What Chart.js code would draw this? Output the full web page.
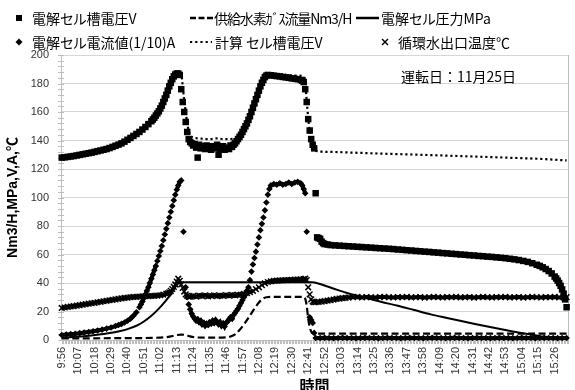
<!DOCTYPE html>
<html>
<head>
<meta charset="utf-8">
<script src="https://cdn.jsdelivr.net/npm/chart.js@4/dist/chart.umd.min.js"></script>
<style>
  html, body { margin: 0; padding: 0; background: #fff; overflow: hidden; }
  #wrap { position: relative; width: 575px; height: 390px; }
  #chart { position: absolute; left: 0; top: 0; }
  #keys { position: absolute; left: 0; top: 0; }
  .lt { position: absolute; font-family: 'Noto Sans CJK JP', sans-serif; font-size: 14px; line-height: 20px;
        color: #000; white-space: nowrap; font-feature-settings: 'palt'; }
  .note { position: absolute; font-family: 'Noto Sans CJK JP', sans-serif; font-size: 14px; line-height: 20px;
          color: #000; white-space: nowrap; }
</style>
</head>
<body>
<div id="wrap">
  <canvas id="chart" width="575" height="390"></canvas>
  <svg id="keys" width="575" height="52" viewBox="0 0 575 52">
    <rect x="16" y="15" width="6" height="6" fill="#000"/>
    <line x1="190" y1="18" x2="213" y2="18" stroke="#000" stroke-width="2.5" stroke-dasharray="6 2.5"/>
    <line x1="356" y1="18" x2="379" y2="18" stroke="#000" stroke-width="2.5"/>
    <polygon points="19,38.5 22.5,42 19,45.5 15.5,42" fill="#000"/>
    <line x1="190" y1="42" x2="212" y2="42" stroke="#000" stroke-width="2.2" stroke-dasharray="2.2 3"/>
    <line x1="382" y1="39" x2="388" y2="45" stroke="#000" stroke-width="1.4"/>
    <line x1="388" y1="39" x2="382" y2="45" stroke="#000" stroke-width="1.4"/>
  </svg>
  <div class="lt" style="left:32px;top:8px">電解セル槽電圧V</div>
  <div class="lt" style="left:214px;top:8px;letter-spacing:-1.1px">供給水素ｶﾞｽ流量Nm3/H</div>
  <div class="lt" style="left:381px;top:8px">電解セル圧力MPa</div>
  <div class="lt" style="left:32px;top:32px">電解セル電流値(1/10)A</div>
  <div class="lt" style="left:215px;top:32px">計算 セル槽電圧V</div>
  <div class="lt" style="left:398px;top:32px">循環水出口温度℃</div>
  <div class="note" style="left:401px;top:66px">運転日：11月25日</div>
</div>
<script>
// Log start; every reading below is [minutes after 9:56, value].
const startClock = '9:56';
const timeLabels = ['9:56','10:07','10:18','10:29','10:40','10:51','11:02','11:13','11:24','11:35','11:46',
  '11:57','12:08','12:19','12:30','12:41','12:52','13:03','13:14','13:25','13:36','13:47','13:58',
  '14:09','14:20','14:31','14:42','14:53','15:04','15:15','15:26'];
const yTicks = [0, 20, 40, 60, 80, 100, 120, 140, 160, 180, 200];

// 電解セル槽電圧 V
const cellVoltage = [
  [0,128],[2,128.2],[4,128.5],[6,128.8],[8,129.1],[10,129.5],[12,129.9],[14,130.3],[16,130.7],[18,131.1],
  [20,131.5],[22,132],[24,132.5],[26,133],[28,133.5],[30,134],[32,134.7],[34,135.5],[36,136.3],[38,137.1],
  [40,138],[42,139.2],[44,140.5],[46,141.8],[48,143.2],[50,144.6],[52,146],[54,147.7],[56,149.5],[58,151.5],
  [60,153.5],[61,154.7],[62,156],[63,157.5],[64,159],[65,160.5],[66,162.5],[67,164.5],[68,167],[69,169.5],
  [70,172],[71,175],[72,178],[73,180.5],[74,183],[75,185],[76,186.3],[77,187],[78,187],[79,186],
  [80,176],[81,167],[82,160],[83,153],[84,146],[85,141],[86,139],[87,138],
  [88,136.5],[89,137.5],[90,135],[91,128],[92,137],[93,134.5],[94,136],[96,134],[97,136.5],[98,135],
  [100,133.5],[101,136],[102,134.5],[104,137],[105,130],[106,134],[108,136],[109,133.5],[110,135],[112,134],
  [113,136.5],[114,135.5],[115,137],[116,138],[117,139.5],
  [118,141],[119,142.5],[120,144],[121,146],[122,148],[123,150],[124,152],[125,154.5],[126,157],[127,160],
  [128,163],[129,166],[130,169],[131,172],[132,175],[133,178],[134,180.5],[135,182.5],[136,184.5],[137,185.5],
  [138,186],[140,185.8],[142,185.5],[144,185.2],[146,185],[148,184.6],[150,184.3],[152,184],[154,183.6],
  [156,183.3],[158,183],[160,182.5],[161,182],[162,181],
  [163,176],[164,167],[165,155],[166,147],[167,141],[168,137],[169,134.5],[170,103],
  [171,72],[172,71.5],[173,71],[174,69],[175,68],[176,67.3],[178,67],
  [180,66.6],[183,66.4],[186,66.2],[189,66],[192,65.8],[195,65.6],[198,65.4],[201,65.2],[204,65],[207,64.8],
  [210,64.6],[213,64.4],[216,64.2],[219,64],[222,63.8],[225,63.5],[228,63.3],[231,63],[234,62.8],[237,62.5],
  [240,62.3],[243,62],[246,61.8],[249,61.5],[252,61.3],[255,61],[258,60.8],[261,60.5],[264,60.3],[267,60],
  [270,59.8],[273,59.5],[276,59.3],[279,59],[282,58.8],[285,58.5],[288,58.3],[291,58],[294,57.7],[297,57.4],
  [300,57],[303,56.6],[306,56.1],[309,55.5],[312,54.8],[315,53.9],[318,52.8],[320,52],[322,51],[324,49.8],
  [326,48.4],[328,46.7],[330,44.5],[331,43.2],[332,41.7],[333,40],[334,38],[335,35.5],[336,32.5],[337,28.5],
  [338,23]
];

// 計算 セル槽電圧 V
const calcVoltage = [
  [76,186.5],[78,187.5],[80,187],[81,178],[82,168],[83,160],[84,152],[85,147],[86,144],[88,142],
  [92,141.5],[96,141],[100,141],[104,141.5],[108,141],[112,141],[116,141.5],[118,142.5],[120,145],[122,148.5],
  [124,152.5],[126,157.5],[128,163.5],[130,169.5],[132,175.5],[134,181],[136,185],[138,186.5],[142,186.5],
  [150,186],[158,185.5],[162,185],[163,180],[164,168],[165,156],[166,147],[167,141],[168,137],[169,134],
  [171,132.5],[180,132],[200,131.3],[220,130.6],[240,130],[260,129.3],[280,128.6],[300,127.9],[320,127.1],
  [338,126]
];

// 供給水素ガス流量 Nm3/H
const h2Flow = [
  [0,1.2],[20,1.2],[40,1.3],[60,1.5],[70,2],[74,2.8],[77,3.5],[80,3.8],[83,3.5],[86,2.5],[90,1.8],
  [100,1.6],[110,1.8],[113,2.5],[116,4],[119,7],[122,11],[125,15.5],[128,20.5],[131,25],[134,28.5],
  [137,30],[140,30.2],[162,30.2],[163,29],[164,24],[165,15],[166,9],[167,6],[168,4.8],[170,4.5],[338,4.5]
];

// 電解セル圧力 MPa
const cellPressure = [
  [0,1.5],[10,2.2],[20,3.2],[30,4.5],[40,6.5],[45,8],[50,10],[55,13],[60,17],[65,22],[70,28],[73,32],
  [75,35.5],[77,38.5],[78,40],[79,40.5],[80,40.5],[166,40.5],[168,40.5],[170,40.2],[174,39],[178,37.5],
  [185,35],[191,33],[200,30.5],[213,27],[225,24],[236,21],[247,18],[258,15.5],[269,13],[280,10.5],
  [291,8.2],[302,6],[313,4],[324,2],[330,1.2],[338,0.8]
];

// 電解セル電流値 (1/10) A
const cellCurrent = [
  [0,3.5],[3,3.8],[6,4.1],[9,4.4],[12,4.8],[15,5.2],[18,5.6],[21,6.1],[24,6.7],[27,7.3],[30,8],[33,8.8],
  [36,9.8],[38,10.5],[40,11.3],[42,12.3],[44,13.5],[46,15],[48,17],[50,19.5],[52,23],[53,25],[54,27],
  [55,29.5],[56,32],[57,34.5],[58,37],[59,40],[60,43],[61,46],[62,49],[63,52],[64,55.5],[65,59],[66,62.5],
  [67,66],[68,70],[69,74],[70,78],[71,82],[72,86],[73,90],[74,94],[75,98],[76,102],[77,105.5],[78,108.5],
  [79,111],[80,112],[81.5,76],[83,37],[84,30],[85,25],[86,21.5],[87,18.5],[88,16.5],[89,15],[90,13.5],
  [91,14.5],[92,12.5],[93,13.5],[94,11],[95,12],[96,10],[97,11.5],[98,10.5],[99,12.5],[100,11.5],
  [101,13.5],[102,12],[103,14],[104,12.5],[105,11],[106,12.5],[107,10],[108,11.5],[109,9.5],[110,12],
  [111,13],[112,14.5],[113,16],[114,15],[115,17.5],[116,19],[117,20.5],[118,22],[119,24],[120,26],
  [121,28],[122,30],[123,32],[124,34.5],[125,37],[126,42],[127,48],[128,53],[129,57.5],[130,62],[131,67],
  [132,72],[133,77],[134,81.5],[135,86],[136,91],[137,96.5],[138,102],[139,106],[140,108.5],[142,109.5],
  [144,109],[146,110],[148,109],[150,109.5],[152,110.5],[154,109.5],[156,110.5],[158,111],[160,110],
  [161,108.5],[162,106],[163,103],[164,76],[166,16],[167,14],[168,12],[169,5],[170,1.4],
  [173,1.4],[176,1.5],[179,1.4],[182,1.3],[185,1.4],[188,1.5],[191,1.4],[194,1.4],[197,1.3],[200,1.4],
  [203,1.5],[206,1.4],[209,1.4],[212,1.3],[215,1.4],[218,1.5],[221,1.4],[224,1.4],[227,1.3],[230,1.4],
  [233,1.5],[236,1.4],[239,1.4],[242,1.3],[245,1.4],[248,1.5],[251,1.4],[254,1.4],[257,1.3],[260,1.4],
  [263,1.5],[266,1.4],[269,1.4],[272,1.3],[275,1.4],[278,1.5],[281,1.4],[284,1.4],[287,1.3],[290,1.4],
  [293,1.5],[296,1.4],[299,1.4],[302,1.3],[305,1.4],[308,1.5],[311,1.4],[314,1.4],[317,1.3],[320,1.4],
  [323,1.5],[326,1.4],[329,1.4],[332,1.3],[335,1.4],[338,1.4]
];

// 循環水出口温度 ℃
const waterTemp = [
  [0,22.5],[2,22.8],[4,23.2],[6,23.5],[8,23.8],[10,24.1],[12,24.4],[14,24.8],[16,25.1],[18,25.5],
  [20,25.8],[22,26.1],[24,26.5],[26,26.8],[28,27.2],[30,27.5],[32,27.9],[34,28.2],[36,28.5],[38,28.9],
  [40,29.2],[42,29.5],[44,29.7],[46,30],[48,30.2],[50,30.3],[52,30.5],[54,30.6],[56,30.7],[58,30.8],
  [60,30.9],[62,31],[64,31.2],[66,31.4],[68,31.8],[70,32.3],[71,32.8],[72,33.5],[73,34.5],[74,35.8],
  [75,37.3],[76,39],[77,41],[78,43],[79,41.5],[80,39],[81,36.5],[82,34],[83,32],[84,31],[85,30.3],
  [86,30.5],[88,31],[90,30.5],[92,31.2],[94,30.8],[96,31.3],[98,30.6],[100,31],[102,31.4],[104,30.8],
  [106,31.2],[108,31],[110,31.5],[112,31.1],[114,31.6],[116,31.3],[118,31.7],[120,31.9],[122,32.3],
  [124,32.8],[126,33.5],[128,34.5],[130,35.7],[132,37],[134,38.5],[136,39.8],[138,40.7],[140,41.2],
  [142,41.5],[144,41.6],[146,41.8],[148,41.9],[150,42],[152,42.1],[154,42.2],[156,42.3],[158,42.4],
  [160,42.5],[162,42.7],[163,43],[164,42],[165,37],[166,32],[167,28.5],[168,27],[169,26.5],[170,26.5],
  [172,26.7],[174,27],[176,27.3],[178,27.7],[180,28],[182,28.4],[184,28.8],[186,29.1],[188,29.4],
  [190,29.6],[192,29.8],[195,30],[198,30.2],[201,29.9],[204,30.1],[207,30],[210,29.8],[213,30.1],
  [216,30.2],[219,30],[222,29.9],[225,30.1],[228,30],[231,30.2],[234,29.9],[237,30],[240,30.1],
  [243,29.8],[246,30],[249,30.2],[252,30],[255,29.9],[258,30.1],[261,30],[264,30.2],[267,29.9],
  [270,30],[273,30.1],[276,29.8],[279,30],[282,30.2],[285,30],[288,29.9],[291,30.1],[294,30],
  [297,30.2],[300,29.9],[303,30],[306,30.1],[309,29.8],[312,30],[315,30.2],[318,30],[321,29.9],
  [324,30.1],[327,30],[330,30.2],[333,29.9],[336,30],[338,30.1]
];

function clockToMin(s) { const [h, m] = s.split(':').map(Number); return h * 60 + m; }
const startMin = clockToMin(startClock);
const toPoints = rows => rows.map(([x, y]) => ({ x, y }));

const jpFont = "'Noto Sans CJK JP', sans-serif";
const latinFont = "'Liberation Sans', 'Noto Sans CJK JP', sans-serif";

// Dense marker runs are joined by a thick stroke so that they read as a solid band;
// jumps larger than the given step are left as separate markers.
const bandSegment = maxStep => ({
  borderColor: ctx => Math.abs(ctx.p1.parsed.y - ctx.p0.parsed.y) > maxStep ? 'rgba(0,0,0,0)' : '#000'
});

// Fine tick marks along both axes and the right edge of the plot area.
const axisDecor = {
  id: 'axisDecor',
  beforeDatasetsDraw(chart) {
    const { ctx, chartArea: a, scales: { x, y } } = chart;
    ctx.save();
    ctx.strokeStyle = '#bdbdbd';
    ctx.lineWidth = 1;
    ctx.beginPath();
    for (let m = Math.ceil(x.min); m <= x.max; m++) {
      const px = Math.round(x.getPixelForValue(m)) + 0.5;
      ctx.moveTo(px, a.bottom);
      ctx.lineTo(px, a.bottom + 4);
    }
    for (let v = y.min; v <= y.max; v += 4) {
      const py = Math.round(y.getPixelForValue(v)) + 0.5;
      ctx.moveTo(a.left - 3, py);
      ctx.lineTo(a.left + 3, py);
    }
    ctx.moveTo(Math.round(a.right) + 0.5, a.top);
    ctx.lineTo(Math.round(a.right) + 0.5, a.bottom);
    ctx.stroke();
    ctx.restore();
  }
};

new Chart(document.getElementById('chart'), {
  type: 'scatter',
  data: {
    datasets: [
      { label: '計算 セル槽電圧V', data: toPoints(calcVoltage), showLine: true, pointRadius: 0,
        borderColor: '#000', borderWidth: 2.2, borderDash: [2.2, 2.8], cubicInterpolationMode: 'monotone',
        order: 0, clip: false },
      { label: '電解セル槽電圧V', data: toPoints(cellVoltage), showLine: false, pointStyle: 'rect',
        pointRadius: 4.6, pointBackgroundColor: '#000', pointBorderColor: '#000', pointBorderWidth: 0,
        order: 1, clip: false },
      { label: '電解セル電流値(1/10)A', data: toPoints(cellCurrent), showLine: true, borderWidth: 4,
        borderColor: '#000', segment: bandSegment(3), pointStyle: 'rectRot',
        pointRadius: 3.3, pointBackgroundColor: '#000', pointBorderColor: '#000', pointBorderWidth: 0,
        order: 2, clip: false },
      { label: '循環水出口温度℃', data: toPoints(waterTemp), showLine: true, borderWidth: 4,
        borderColor: '#000', segment: bandSegment(1.2), pointStyle: 'crossRot',
        pointRadius: 4, pointBorderColor: '#000', pointBorderWidth: 1.5,
        order: 3, clip: false },
      { label: '電解セル圧力MPa', data: toPoints(cellPressure), showLine: true, pointRadius: 0,
        borderColor: '#000', borderWidth: 2, cubicInterpolationMode: 'monotone', order: 4, clip: false },
      { label: '供給水素ｶﾞｽ流量Nm3/H', data: toPoints(h2Flow), showLine: true, pointRadius: 0,
        borderColor: '#000', borderWidth: 2.2, borderDash: [7, 3.5], cubicInterpolationMode: 'monotone',
        order: 5, clip: false }
    ]
  },
  options: {
    responsive: false,
    animation: false,
    events: [],
    layout: { padding: { top: 55, right: 3, bottom: 0, left: 0 } },
    plugins: { legend: { display: false }, tooltip: { enabled: false } },
    scales: {
      x: {
        type: 'linear',
        min: -0.5,
        max: 339,
        grid: { display: false, drawTicks: false },
        border: { display: true, color: '#bdbdbd' },
        afterBuildTicks: scale => {
          scale.ticks = timeLabels.map(s => ({ value: clockToMin(s) - startMin }));
        },
        afterFit: scale => { scale.height = 50; },
        ticks: {
          autoSkip: false,
          minRotation: 90,
          maxRotation: 90,
          padding: 7,
          color: '#333',
          font: { family: latinFont, size: 11 },
          callback: (value, index) => timeLabels[index]
        },
        title: {
          display: true, text: '時間', color: '#000',
          font: { family: jpFont, size: 15, weight: 'bold' },
          padding: { top: 0, bottom: -4 }
        }
      },
      y: {
        min: 0,
        max: 200,
        afterBuildTicks: scale => { scale.ticks = yTicks.map(v => ({ value: v })); },
        afterFit: scale => { scale.width = 61; },
        grid: { color: '#d6d6d6', drawTicks: false },
        border: { display: true, color: '#bdbdbd' },
        ticks: { padding: 12, color: '#333', font: { family: latinFont, size: 11 } },
        title: {
          display: true, text: 'Nm3/H,MPa,V,A,℃', color: '#000',
          font: { family: latinFont, size: 14, weight: 'bold' },
          padding: { top: 5, bottom: 0 }
        }
      }
    }
  },
  plugins: [axisDecor]
});
</script>
</body>
</html>
